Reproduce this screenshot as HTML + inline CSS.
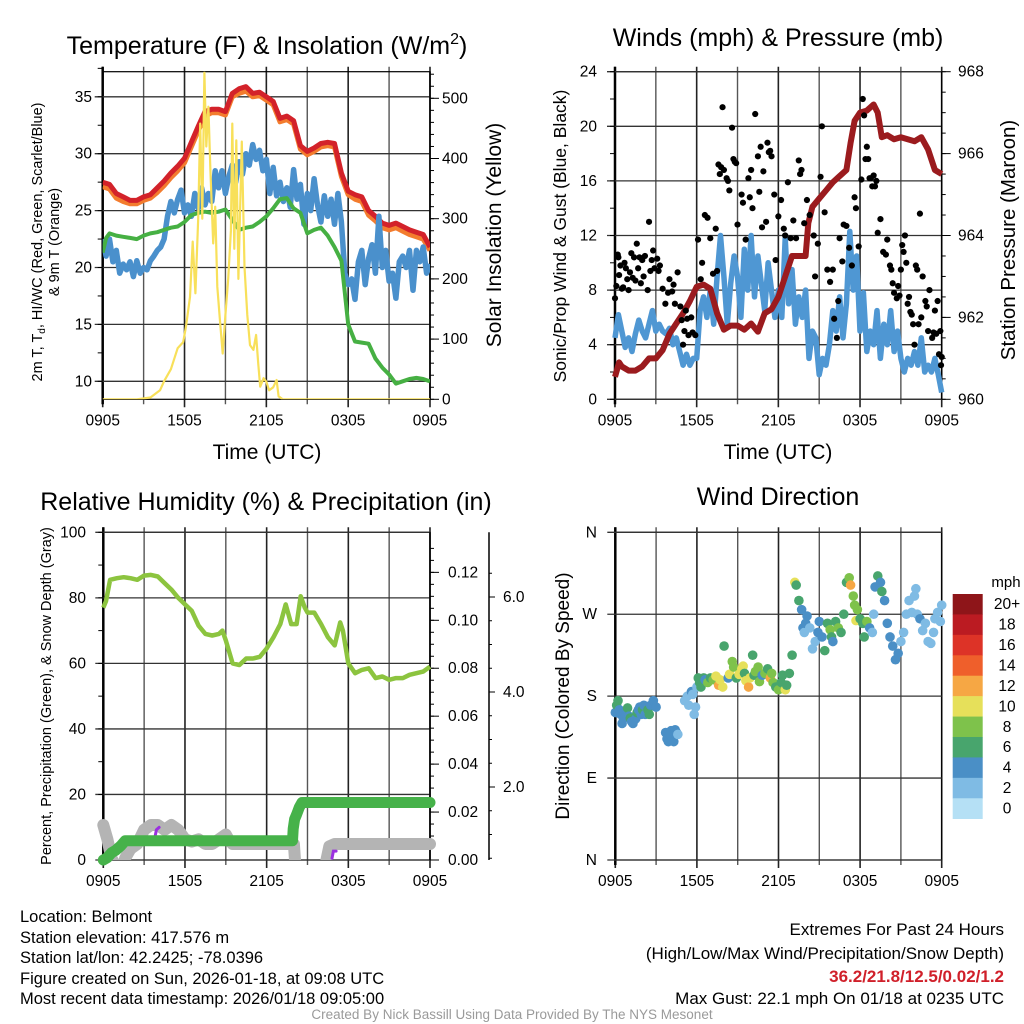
<!DOCTYPE html>
<html><head><meta charset="utf-8"><style>
body{margin:0;background:#fff}
svg{display:block;font-family:"Liberation Sans",Arial,sans-serif}
</style></head><body>
<svg id="s" width="1024" height="1024" viewBox="0 0 1024 1024" xmlns="http://www.w3.org/2000/svg">
<defs>
<clipPath id="c1"><rect x="102.7" y="71.7" width="327.3" height="327.6"/></clipPath>
<clipPath id="c3"><rect x="90" y="532.3" width="350" height="327.7"/></clipPath>
</defs>
<g id="root"></g>
<!-- titles -->
<text x="267" y="54" font-size="25" text-anchor="middle">Temperature (F) &amp; Insolation (W/m<tspan font-size="16" dy="-10">2</tspan><tspan dy="10">)</tspan></text>
<text x="778" y="46" font-size="25" text-anchor="middle">Winds (mph) &amp; Pressure (mb)</text>
<text x="266" y="510" font-size="25" text-anchor="middle">Relative Humidity (%) &amp; Precipitation (in)</text>
<text x="778" y="505" font-size="25" text-anchor="middle">Wind Direction</text>
<text x="267" y="459" font-size="21" text-anchor="middle">Time (UTC)</text>
<text x="778" y="459" font-size="21" text-anchor="middle">Time (UTC)</text>
<text transform="translate(42,242) rotate(-90)" font-size="14.5" text-anchor="middle">2m T, T<tspan font-size="10" dy="3">d</tspan><tspan dy="-3">, HI/WC (Red, Green, Scarlet/Blue)</tspan></text>
<text transform="translate(59,242) rotate(-90)" font-size="14.5" text-anchor="middle">&amp; 9m T (Orange)</text>
<text transform="translate(501,235) rotate(-90)" font-size="21" text-anchor="middle">Solar Insolation (Yellow)</text>
<text transform="translate(566,236) rotate(-90)" font-size="17.5" text-anchor="middle">Sonic/Prop Wind &amp; Gust (Blue, Black)</text>
<text transform="translate(1015,240) rotate(-90)" font-size="20.5" text-anchor="middle">Station Pressure (Maroon)</text>
<text transform="translate(51,696) rotate(-90)" font-size="14.5" text-anchor="middle">Percent, Precipitation (Green), &amp; Snow Depth (Gray)</text>
<text transform="translate(569,696) rotate(-90)" font-size="19" text-anchor="middle">Direction (Colored By Speed)</text>
<text x="1006" y="587" font-size="15" text-anchor="middle">mph</text>
<!-- footer -->
<g font-size="16.5">
<text x="20" y="922">Location: Belmont</text>
<text x="20" y="943">Station elevation: 417.576 m</text>
<text x="20" y="963">Station lat/lon: 42.2425; -78.0396</text>
<text x="20" y="984">Figure created on Sun, 2026-01-18, at 09:08 UTC</text>
<text x="20" y="1004">Most recent data timestamp: 2026/01/18 09:05:00</text>
</g>
<g font-size="17" text-anchor="end">
<text x="1004" y="935">Extremes For Past 24 Hours</text>
<text x="1004" y="959">(High/Low/Max Wind/Precipitation/Snow Depth)</text>
<text x="1004" y="982" fill="#d0202a" font-weight="bold">36.2/21.8/12.5/0.02/1.2</text>
<text x="1004" y="1004">Max Gust: 22.1 mph On 01/18 at 0235 UTC</text>
</g>
<text x="512" y="1019" font-size="13.5" fill="#9a9a9a" text-anchor="middle">Created By Nick Bassill Using Data Provided By The NYS Mesonet</text>
</svg>
<script>
const xLabels=["0905","1505","2105","0305","0905"];
const tempRed=[[0,27.5],[0.5,27.3],[1,26.5],[1.5,26.2],[2,25.9],[2.5,25.9],[3,26.2],[3.5,26.4],[4,27],[4.5,27.6],[5,28.3],[5.5,28.9],[6,29.6],[6.5,31.0],[7,32.4],[7.5,33.7],[8,33.9],[8.5,33.9],[9,33.7],[9.5,35.3],[10,35.7],[10.5,35.9],[11,35.3],[11.5,35.4],[12,35.0],[12.5,34.6],[13,33.1],[13.5,33.3],[14,32.9],[14.5,30.7],[15,30.2],[15.5,30.5],[16,30.9],[16.5,31.0],[17,30.9],[17.5,28.3],[18,26.7],[18.5,26.4],[19,26.2],[19.5,25.0],[20,24.5],[20.5,23.9],[21,23.7],[21.5,23.9],[22,23.6],[22.5,23.3],[23,23.1],[23.5,22.9],[24,21.8]];
const tempOrange=[[0,27.1],[0.5,26.9],[1,26.1],[1.5,25.8],[2,25.6],[2.5,25.6],[3,25.9],[3.5,26.1],[4,26.6],[4.5,27.2],[5,27.9],[5.5,28.5],[6,29.2],[6.5,30.6],[7,32.0],[7.5,33.3],[8,33.6],[8.5,33.6],[9,33.4],[9.5,35.0],[10,35.3],[10.5,35.5],[11,35.0],[11.5,35.1],[12,34.7],[12.5,34.3],[13,32.8],[13.5,33.0],[14,32.6],[14.5,30.4],[15,29.9],[15.5,30.2],[16,30.6],[16.5,30.7],[17,30.6],[17.5,28.0],[18,26.4],[18.5,26.0],[19,25.8],[19.5,24.6],[20,24.1],[20.5,23.5],[21,23.3],[21.5,23.5],[22,23.2],[22.5,22.9],[23,22.7],[23.5,22.5],[24,21.5]];
const dewGreen=[[0,21.3],[0.25,22.6],[0.5,23.0],[1,22.8],[1.5,22.7],[2,22.6],[2.5,22.5],[3,22.8],[3.5,23.0],[4,23.1],[4.5,23.3],[5,23.5],[5.5,23.6],[6,24.0],[6.5,24.6],[7,24.8],[7.5,24.9],[8,24.8],[8.5,24.9],[9,25.1],[9.5,24.2],[10,23.3],[10.5,23.5],[11,23.6],[11.5,24.0],[12,24.5],[12.5,25.2],[13,26.0],[13.5,26.1],[14,25.2],[14.5,24.8],[15,23.0],[15.5,23.3],[16,23.5],[16.5,22.8],[17,21.8],[17.5,20.6],[18,15.0],[18.5,13.5],[19,13.4],[19.5,13.3],[20,12.0],[20.5,11.2],[21,10.6],[21.5,9.8],[22,10.0],[22.5,10.2],[23,10.3],[23.5,10.2],[24,10.0]];
const chillBlue=[22.5,21,22.5,20.5,21.5,19.5,20.3,19.8,20.5,19.2,20.6,19.5,20.0,19.8,20.6,21.0,21.5,21.8,22.5,24.5,25.8,24.8,26.0,26.8,24.8,25.5,24.5,26.5,25.2,27.0,25.5,26.5,25.8,28.5,27.0,28.5,26.5,28.0,29.0,27.5,29.3,28.2,30.0,29.0,30.8,29.5,30.3,28.5,29.5,26.5,28.8,26.3,27.5,25.8,27.0,25.3,28.6,26.0,27.3,23.8,26.5,25.0,27.8,25.5,24.0,26.3,24.5,26.0,23.8,26.5,24.0,19.5,18.5,19.0,17.2,20.5,21.5,18.5,20.8,22.0,19.5,24.5,20.0,21.5,18.8,19.5,17.3,20.5,21.0,20.0,21.5,18.0,21.5,20.5,21.8,19.5,20.3];
const solar=[[0,0],[2.5,0],[3.5,3],[4.2,15],[4.5,30],[5,50],[5.5,85],[5.9,95],[6.1,120],[6.4,170],[6.6,262],[6.8,176],[7.0,300],[7.15,458],[7.3,300],[7.46,543],[7.6,420],[7.75,486],[7.9,380],[8.1,259],[8.25,320],[8.4,187],[8.6,130],[8.8,76],[9.0,140],[9.2,200],[9.4,280],[9.5,458],[9.65,250],[9.8,430],[9.95,200],[10.2,428],[10.4,220],[10.6,140],[10.8,90],[11.05,82],[11.25,107],[11.4,60],[11.55,21],[11.8,35],[12,29],[12.2,15],[12.5,20],[12.75,32],[12.9,5],[13.2,0],[24,0]];
const windBlue=[4.5,6.2,5.0,3.8,4.5,3.5,4.8,5.8,5.0,4.5,5.5,6.5,5.0,5.5,5.0,4.8,5.2,4.0,4.5,3.5,2.5,3.3,2.5,3.0,3.0,6.5,7.5,6.0,8.0,5.5,9.0,12.0,9.0,5.5,8.5,10.5,9.0,6.0,11.0,8.0,12.0,7.5,10.5,8.5,6.5,10.0,8.0,6.0,8.0,6.0,11.8,7.0,9.5,5.5,7.5,6.0,8.0,3.0,5.0,4.5,1.8,3.0,2.5,4.0,6.5,5.0,7.5,4.5,7.0,12.3,8.0,10.5,5.0,7.8,3.5,5.0,4.0,6.5,3.0,5.5,4.0,6.5,3.5,5.0,3.0,2.0,3.0,2.5,3.5,2.5,4.5,2.0,2.5,2.0,3.0,1.8,0.5];
const gusts=[[0,7.4],[0.1,8.3],[0.2,10.6],[0.3,9.1],[0.4,9.8],[0.5,8.1],[0.6,8.2],[0.7,10],[0.9,8.8],[1,8],[1.1,9.3],[1.2,10.7],[1.4,10.4],[1.5,8.7],[1.6,11.4],[1.7,9.6],[1.8,10.4],[1.9,8.5],[2.0,10.2],[2.2,10.5],[2.5,13],[2.4,8],[2.6,9.4],[2.8,10.9],[2.9,9.6],[3.1,10.3],[3.2,9.4],[3.5,8.1],[3.7,7.0],[3.9,7.8],[4.0,8.8],[4.2,7.9],[4.4,7.0],[4.6,9.3],[4.8,6.8],[4.9,5.8],[5.0,4.0],[5.1,5.0],[5.2,6.5],[5.4,4.7],[5.6,6.0],[5.9,4.7],[6.1,11.7],[6.3,8.8],[6.4,10],[6.6,13.5],[6.8,13.3],[7.0,11.8],[7.2,9.2],[7.4,12.5],[7.5,9.4],[7.6,17.2],[7.8,17.0],[7.9,21.4],[8.0,16.8],[8.2,16.2],[8.4,15.3],[8.6,19.9],[8.7,17.6],[8.9,17.3],[9.0,12.8],[9.3,15],[9.4,14.4],[9.6,11.7],[9.8,16.2],[10.0,16.8],[10.1,14],[10.3,20.9],[10.5,17.8],[10.6,15.2],[10.8,12.6],[10.9,16.7],[11.1,13],[11.2,18.8],[11.4,18.2],[11.5,17.8],[11.7,15.0],[11.8,10.2],[12.0,13.4],[12.2,14.6],[12.4,12.5],[12.7,15.9],[12.9,11.8],[13.1,13.1],[13.3,11.8],[13.5,17.5],[13.7,16.8],[13.9,12.9],[14.1,14.6],[14.3,13.5],[14.6,12.0],[14.7,9.0],[14.9,11.4],[15.1,16.3],[15.2,20.0],[15.4,13.7],[15.6,9.5],[15.8,8.6],[16.0,9.5],[16.1,5.9],[16.3,4.5],[16.4,7.2],[16.7,10.1],[16.8,12.8],[17.0,12.7],[17.2,11.1],[17.4,9.8],[17.6,14.8],[17.7,14.0],[17.9,11.2],[18.1,16.1],[18.2,22.0],[18.3,20.8],[18.5,18.5],[18.6,17.6],[18.8,16.2],[18.9,15.6],[19.0,16.4],[19.2,16.0],[19.3,12.2],[19.5,13.2],[19.7,10.8],[19.9,10.6],[20.0,11.7],[20.2,9.8],[20.4,8.5],[20.5,7.8],[20.7,7.4],[20.9,7.6],[21.1,11.3],[21.2,10.8],[21.4,10],[21.5,7.0],[21.7,6.4],[21.9,5.5],[22.1,9.8],[22.2,9.5],[22.4,13.6],[22.6,9.0],[22.8,7.2],[23.0,5.0],[23.1,8.0],[23.3,4.5],[23.5,6.5],[23.6,4.8],[23.7,7.2],[23.8,3.3],[23.9,5.0],[24.0,3.1],[23.95,2.5],[22.5,6.0],[22.0,4.0],[21.8,6.2],[21.3,12.0],[20.8,8.3],[0.25,10.4],[0.8,9.6],[1.3,8.9],[2.1,9.0],[2.7,10.2],[3.3,9.8],[4.3,8.4],[5.3,5.9],[5.7,4.9],[7.7,16.5],[8.3,16.0],[8.8,17.4],[9.9,14.8],[10.7,18.5],[11.3,18.1],[12.5,12.0],[13.6,16.5],[16.5,11.8],[18.4,17.6],[18.7,16.2],[19.1,15.6],[20.3,9.5],[21.0,9.5],[21.6,7.5],[22.3,5.5],[22.9,6.8],[23.4,4.9]];
const pressure=[[0,960.55],[0.3,960.9],[0.5,960.8],[1,960.7],[1.5,960.7],[2,960.8],[2.5,961.0],[3,961.0],[3.5,961.2],[4,961.6],[4.5,961.85],[5,962.1],[5.5,962.4],[6,962.75],[6.5,962.8],[7,962.7],[7.5,962.1],[8,961.7],[8.5,961.8],[9,961.8],[9.5,961.7],[10,961.85],[10.5,961.65],[11,962.1],[11.5,962.2],[12,962.5],[12.5,963.0],[13,963.5],[13.5,963.5],[14,963.5],[14.2,964.3],[14.5,964.7],[15,964.9],[15.5,965.1],[16,965.3],[16.5,965.45],[17,965.6],[17.3,966.25],[17.6,966.8],[18,967.0],[18.5,967.05],[19,967.2],[19.3,967.0],[19.6,966.4],[20,966.45],[20.5,966.35],[21,966.4],[21.5,966.35],[22,966.3],[22.5,966.4],[23,966.1],[23.5,965.6],[24,965.5]];
const rh=[[0,77],[0.2,79],[0.5,85.5],[1,86],[1.5,86.3],[2,86],[2.5,85.5],[3,86.8],[3.5,87],[4,86.5],[4.5,84.5],[5,82.5],[5.5,80],[6,78],[6.5,76],[7,71.5],[7.5,69],[8,68.5],[8.5,69],[8.75,70],[9,67],[9.5,60],[10,59.5],[10.5,61.5],[11,61.5],[11.5,62],[12,64.5],[12.5,68],[13,72],[13.4,78],[13.8,72],[14.2,72],[14.5,80.5],[14.8,77],[15,75.5],[15.5,75.5],[16,72],[16.5,68],[17,65.5],[17.4,72.5],[17.6,70],[18,60],[18.5,57],[19,58],[19.5,58.5],[20,55.5],[20.5,56],[21,55],[21.5,55.5],[22,55.5],[22.5,56.5],[23,57],[23.5,57.5],[24,59]];
const precip=[[0,0],[0.3,0.001],[0.6,0.003],[0.9,0.004],[1.3,0.006],[1.6,0.008],[13.9,0.008],[13.95,0.013],[14.05,0.017],[14.2,0.019],[14.4,0.022],[14.6,0.024],[24,0.024]];
const snowA=[[0,1.2],[0.3,0.9],[0.6,0.5],[1,0.3],[1.4,0.2],[1.6,0.5],[2,0.7],[2.5,0.8],[3,1.1],[3.5,1.2],[4,1.2],[4.5,1.1],[5,1.2],[5.5,1.1],[6,0.9],[6.5,0.85],[7,0.9],[7.5,0.8],[8,0.8],[8.5,0.9],[9,1.0],[9.2,0.9],[9.5,0.8],[14,0.8],[14.1,0.4],[14.3,0.1],[14.6,-0.5]];
const snowB=[[15.8,-0.5],[16.2,0.2],[16.6,0.75],[17,0.8],[24,0.8]];
const purpleA=[[3.8,0.95],[3.9,1.1],[4.1,1.15]];
const purpleB=[[16.8,0.5],[16.9,0.65],[17.1,0.65]];
const direction=[[0,162,4],[0.1,170,6],[0.2,175,6],[0.3,165,4],[0.4,160,4],[0.5,150,4],[0.6,155,4],[0.8,160,4],[0.9,167,6],[1.0,158,4],[1.1,156,6],[1.2,152,4],[1.3,150,4],[1.5,155,4],[1.6,162,6],[1.7,165,4],[1.8,168,4],[1.9,160,4],[2.0,165,6],[2.1,170,4],[2.2,160,4],[2.4,165,6],[2.5,160,6],[2.6,170,4],[2.8,175,4],[3.0,168,4],[3.7,140,4],[3.8,133,4],[3.9,130,4],[4.0,138,4],[4.1,142,4],[4.2,135,4],[4.3,130,4],[4.4,143,4],[4.5,140,4],[4.6,138,2],[5.1,175,2],[5.3,180,2],[5.4,170,2],[5.6,185,4],[5.7,182,2],[5.8,160,2],[5.9,168,2],[6.0,190,2],[6.1,200,6],[6.2,195,6],[6.3,190,6],[6.5,200,6],[6.6,198,4],[6.8,195,8],[7.0,200,6],[7.2,198,8],[7.4,202,10],[7.6,192,12],[7.7,198,10],[7.9,190,10],[8.0,235,6],[8.3,200,4],[8.4,204,10],[8.6,218,8],[8.7,212,8],[8.9,200,6],[9.1,204,10],[9.3,210,10],[9.4,213,10],[9.5,205,6],[9.6,197,10],[9.8,190,12],[9.9,200,10],[10.1,225,6],[10.2,203,6],[10.3,207,8],[10.5,212,8],[10.6,196,8],[10.8,203,4],[11.0,205,8],[11.2,210,6],[11.4,200,12],[11.5,205,8],[11.6,195,8],[11.8,190,6],[12.0,187,8],[12.2,195,6],[12.3,203,6],[12.5,187,10],[12.6,192,6],[12.8,205,6],[13.0,225,6],[13.2,305,10],[13.3,302,6],[13.5,285,6],[13.7,275,4],[13.8,255,4],[13.9,250,2],[14.0,260,4],[14.1,268,4],[14.3,255,2],[14.5,232,2],[14.7,240,2],[14.9,250,4],[15.0,262,4],[15.2,245,4],[15.4,230,6],[15.6,260,6],[15.8,253,8],[15.9,245,6],[16.0,240,4],[16.2,262,6],[16.4,255,8],[16.6,250,6],[16.8,270,6],[17.0,305,6],[17.2,310,8],[17.3,302,12],[17.5,290,8],[17.6,280,8],[17.7,263,10],[17.8,275,8],[18.0,265,6],[18.2,260,6],[18.3,245,6],[18.5,262,8],[18.7,255,4],[18.9,250,2],[19.0,270,2],[19.1,300,4],[19.3,312,6],[19.5,305,4],[19.6,295,6],[19.8,285,4],[20.0,260,4],[20.2,245,4],[20.4,235,4],[20.6,220,4],[20.8,227,4],[21.0,240,2],[21.2,250,2],[21.4,270,2],[21.6,285,2],[21.8,272,2],[22.0,290,2],[22.1,298,2],[22.2,270,2],[22.4,265,4],[22.6,252,2],[22.8,260,2],[23.0,240,2],[23.2,238,2],[23.4,250,2],[23.5,265,2],[23.7,272,2],[23.9,262,2],[24.0,280,2]];
const speedColors=["#b5e0f5","#7fbbe4","#4a8fc6","#48a56d","#7ec24b","#e6e05a","#f6a744","#ef5f2b","#dd3327","#bb1b22","#8e1519"];
const speedLabels=["0","2","4","6","8","10","12","14","16","18","20+"];

const NS="http://www.w3.org/2000/svg";
const root=document.getElementById('root');
function mk(tag,attrs,parent){const e=document.createElementNS(NS,tag);for(const k in attrs)e.setAttribute(k,attrs[k]);(parent||root).appendChild(e);return e;}
function txt(x,y,s,anchor,size){const t=mk('text',{x:x,y:y,'font-size':size||15,'text-anchor':anchor||'middle'});t.textContent=s;return t;}
function pathFrom(pts,fx,fy){return pts.map((p,i)=>(i?'L':'M')+fx(p[0]).toFixed(1)+','+fy(p[1]).toFixed(1)).join('');}

const P=[{x0:102.7,x1:430,y0:71.7,y1:399.3},{x0:615,x1:941.7,y0:71.7,y1:399.3},{x0:103.3,x1:430,y0:532.3,y1:860},{x0:615.3,x1:941.7,y0:532.3,y1:860}];
function X(p,h){return p.x0+h/24*(p.x1-p.x0);}

P.forEach((p,i)=>{
  const g=mk('g',{});
  
  
  for(let k=0;k<=8;k++){
    const x=X(p,k*3);
    mk('line',{x1:x,x2:x,y1:p.y0-5,y2:p.y1+(k%2?5:8),stroke:k%2?'#555':'#222','stroke-width':k%2?1.4:1.6},g);
  }
  mk('rect',{x:p.x0,y:p.y0,width:p.x1-p.x0,height:p.y1-p.y0,fill:'none',stroke:'#000','stroke-width':1.2},g);
  mk('line',{x1:p.x0,x2:p.x0,y1:p.y0-5,y2:p.y1+5,stroke:'#000','stroke-width':2.5},g);
  xLabels.forEach((s,k)=>{const t=txt(X(p,k*6),p.y1+26,s,'middle',15.5);
    
    });
});
function hgrid(p,vals,fy,labels,labx,anchor){
  vals.forEach((v,k)=>{const y=fy(v);
    mk('line',{x1:p.x0-8,x2:p.x1,y1:y,y2:y,stroke:'#333','stroke-width':1.3});
    if(labels){const t=txt(labx,y+5,labels[k],anchor,15.5);
      
      }
  });
}
function ticks(x,vals,fy,len){vals.forEach(v=>{const y=fy(v);mk('line',{x1:x,x2:x+len,y1:y,y2:y,stroke:'#000','stroke-width':1});});}
function range(a,b,s){const r=[];for(let v=a;v<=b+1e-9;v+=s)r.push(+v.toFixed(4));return r;}

// ---- Panel 1
const p1=P[0];
const yT=t=>381.3-(t-10)*11.38, yS=w=>399.3-w*0.602;
hgrid(p1,[10,15,20,25,30,35],yT,["10","15","20","25","30","35"],92,'end');
ticks(p1.x0,range(10,37.5,2.5),yT,-5);
mk('line',{x1:p1.x1,x2:p1.x1,y1:p1.y0,y2:p1.y1,stroke:'#000','stroke-width':1.5});
ticks(p1.x1,range(0,540,20),yS,4);
ticks(p1.x1,range(0,500,100),yS,9);
[0,100,200,300,400,500].forEach(v=>{const t=txt(442,yS(v)+5,String(v),'start',15.5);
  
  });
const g1=mk('g',{'clip-path':'url(#c1)'});
const xs1=h=>X(p1,h);
let e;
e=mk('path',{d:pathFrom(tempOrange,xs1,yT),fill:'none',stroke:'#f37c2e','stroke-width':5,'stroke-linejoin':'round'},g1);


e=mk('path',{d:pathFrom(tempRed,xs1,yT),fill:'none',stroke:'#d3222a','stroke-width':5,'stroke-linejoin':'round'},g1);


e=mk('path',{d:pathFrom(chillBlue.map((v,i)=>[i*0.25,v]),xs1,yT),fill:'none',stroke:'#4a90cc','stroke-width':5.5,'stroke-linejoin':'round'},g1);


e=mk('path',{d:pathFrom(dewGreen,xs1,yT),fill:'none',stroke:'#46b043','stroke-width':4,'stroke-linejoin':'round'},g1);


e=mk('path',{d:pathFrom(solar,xs1,yS),fill:'none',stroke:'#f8e05a','stroke-width':2.2,'stroke-linejoin':'round'},g1);



// ---- Panel 2
const p2=P[1];
const yW=m=>399.3-m*13.65, yP=v=>399.3-(v-960)*40.95;
hgrid(p2,[0,4,8,12,16,20,24],yW,["0","4","8","12","16","20","24"],597,'end');
ticks(p2.x0,range(0,24,2),yW,-5);
mk('line',{x1:p2.x1,x2:p2.x1,y1:p2.y0,y2:p2.y1,stroke:'#000','stroke-width':1.5});
ticks(p2.x1,range(960,968,0.5),yP,4);
ticks(p2.x1,range(960,968,2),yP,9);
[960,962,964,966,968].forEach(v=>{const t=txt(958,yP(v)+5,String(v),'start',15.5);
  
  });
const xs2=h=>X(p2,h);
e=mk('path',{d:pathFrom(windBlue.map((v,i)=>[i*0.25,v]),xs2,yW),fill:'none',stroke:'#4f97d3','stroke-width':5.5,'stroke-linejoin':'round'});


e=mk('path',{d:pathFrom(pressure,xs2,yP),fill:'none',stroke:'#9b1b1e','stroke-width':6,'stroke-linejoin':'round'});


gusts.forEach(g=>{const c=mk('circle',{cx:xs2(g[0]),cy:yW(g[1]),r:3.1,fill:'#000'});
  
  });

// ---- Panel 3
const p3=P[2];
const yRH=r=>860-r*3.277, yPr=v=>860-v*2397, ySn=s=>882-s*47.5;
hgrid(p3,[0,20,40,60,80,100],yRH,["0","20","40","60","80","100"],86,'end');
ticks(p3.x0,range(0,100,10),yRH,-5);
mk('line',{x1:p3.x1,x2:p3.x1,y1:p3.y0,y2:p3.y1,stroke:'#000','stroke-width':1.5});
ticks(p3.x1,range(0,0.13,0.005),yPr,4);
ticks(p3.x1,range(0,0.12,0.02),yPr,9);
["0.00","0.02","0.04","0.06","0.08","0.10","0.12"].forEach((s,k)=>{const t=txt(448,yPr(k*0.02)+5,s,'start',15.5);
  
  });
mk('line',{x1:489,x2:489,y1:p3.y0,y2:p3.y1,stroke:'#000','stroke-width':1.5});
ticks(489,range(0.5,6.5,0.5),ySn,3);
ticks(489,[2,4,6],ySn,6);
["2.0","4.0","6.0"].forEach((s,k)=>{const t=txt(503,ySn((k+1)*2)+5,s,'start',15.5);
  
  });
const xs3=h=>X(p3,h);
const g3=mk('g',{'clip-path':'url(#c3)'});
[snowA,snowB].forEach(sn=>{e=mk('path',{d:pathFrom(sn,xs3,ySn),fill:'none',stroke:'#b4b4b4','stroke-width':12,'stroke-linecap':'round','stroke-linejoin':'round'},g3);
  
  });
[purpleA,purpleB].forEach(pp=>{e=mk('path',{d:pathFrom(pp,xs3,ySn),fill:'none',stroke:'#9b30e0','stroke-width':3,'stroke-linecap':'round'},g3);
  
  });
e=mk('path',{d:pathFrom(precip,xs3,yPr),fill:'none',stroke:'#46b24a','stroke-width':11,'stroke-linecap':'round','stroke-linejoin':'round'});


e=mk('path',{d:pathFrom(rh,xs3,yRH),fill:'none',stroke:'#8cc43f','stroke-width':4.5,'stroke-linejoin':'round'});



// ---- Panel 4
const p4=P[3];
const yD=d=>860-d*0.9103;
hgrid(p4,[0,90,180,270,360],yD,["N","E","S","W","N"],597,'end');
const xs4=h=>X(p4,h);
direction.forEach(d=>{const idx=Math.min(10,Math.round(d[2]/2));
  const c=mk('circle',{cx:xs4(d[0]),cy:yD(d[1]),r:4.8,fill:speedColors[idx]});
  
  });
const bh=(818.7-594)/11;
speedColors.slice().reverse().forEach((c,k)=>{
  const r=mk('rect',{x:952.7,y:594+k*bh,width:30,height:bh+0.3,fill:c});
  
  
  const t=txt(1007,594+k*bh+bh/2+5,speedLabels[10-k],'middle',15.5);
  
  
});
</script>
</body></html>
